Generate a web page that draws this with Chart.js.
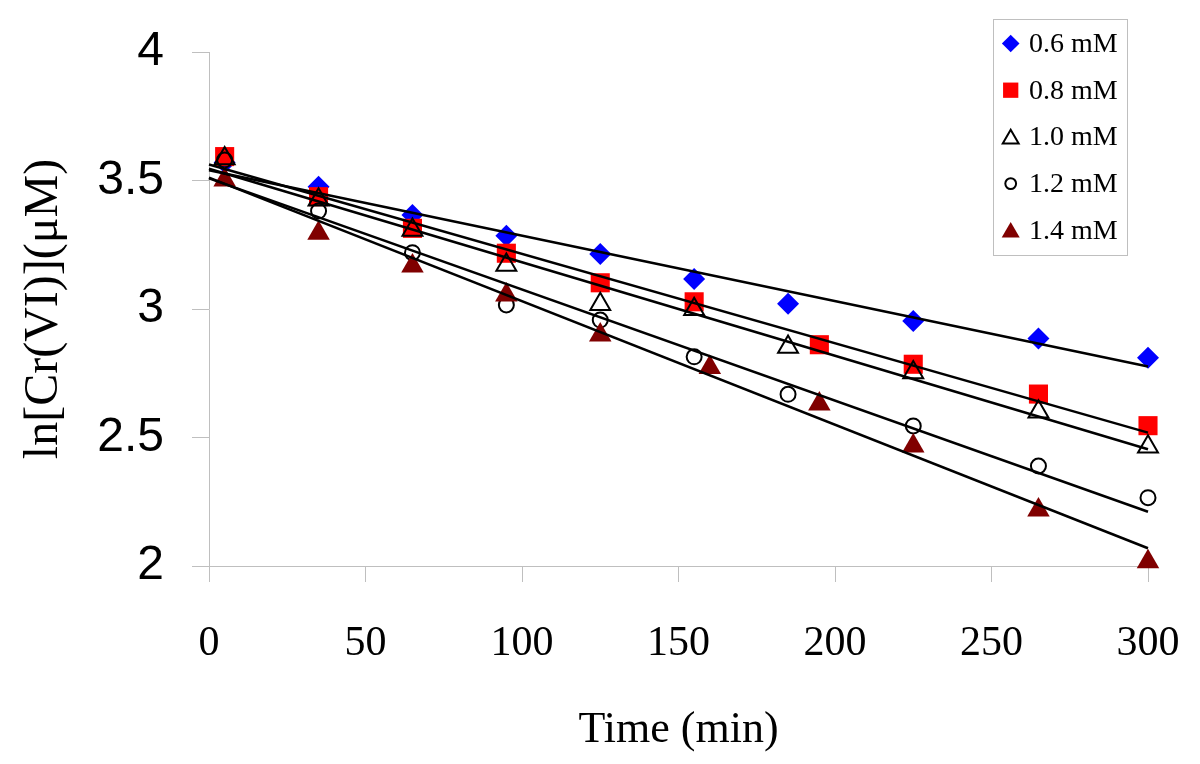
<!DOCTYPE html>
<html>
<head>
<meta charset="utf-8">
<script src="https://cdn.jsdelivr.net/npm/chart.js@4.4.1/dist/chart.umd.min.js"></script>
<style>
html,body{margin:0;padding:0;background:#ffffff;}
canvas{display:block;}
</style>
</head>
<body>
<canvas id="c" width="1200" height="764"></canvas>
<script>
// ---- data ----
const seriesLabels = ['0.6 mM', '0.8 mM', '1.0 mM', '1.2 mM', '1.4 mM'];

const time06 = [5, 35, 65, 95, 125, 155, 185, 225, 265, 300];
const lnCr06 = [3.570, 3.476, 3.366, 3.285, 3.214, 3.117, 3.020, 2.953, 2.885, 2.810];

const time08 = [5, 35, 65, 95, 125, 155, 195, 225, 265, 300];
const lnCr08 = [3.593, 3.437, 3.314, 3.217, 3.102, 3.028, 2.861, 2.785, 2.669, 2.546];

const time10 = [5, 35, 65, 95, 125, 155, 185, 225, 265, 300];
const lnCr10 = [3.586, 3.425, 3.307, 3.171, 3.018, 2.999, 2.852, 2.753, 2.600, 2.464];

const time12 = [5, 35, 65, 95, 125, 155, 185, 225, 265, 300];
const lnCr12 = [3.580, 3.381, 3.219, 3.016, 2.957, 2.814, 2.668, 2.545, 2.389, 2.266];

const time14 = [5, 35, 65, 95, 125, 160, 195, 225, 265, 300];
const lnCr14 = [3.502, 3.295, 3.167, 3.054, 2.899, 2.772, 2.630, 2.467, 2.218, 2.017];

// linear trend lines (value at t = 0 and at t = 300)
const fitTimes = [0, 300];
const fitStart = [3.540, 3.562, 3.546, 3.508, 3.511];
const fitEnd   = [2.776, 2.519, 2.454, 2.211, 2.069];

const xTickStep = 50;
const yTickStep = 0.5;

// ---- styling ----
const times = [time06, time08, time10, time12, time14];
const values = [lnCr06, lnCr08, lnCr10, lnCr12, lnCr14];
const markerStyles = [
  {style: 'rectRot',  r: 11,   fill: '#0000ff', stroke: '#0000ff', bw: 0},
  {style: 'rect',     r: 13.5, fill: '#ff0000', stroke: '#ff0000', bw: 0},
  {style: 'triangle', r: 11.5, fill: 'rgba(0,0,0,0)', stroke: '#000000', bw: 2},
  {style: 'circle',   r: 7.5,  fill: 'rgba(0,0,0,0)', stroke: '#000000', bw: 2},
  {style: 'triangle', r: 13,   fill: '#800000', stroke: '#800000', bw: 0}
];

const datasets = [];
seriesLabels.forEach((lab, i) => {
  const s = markerStyles[i];
  datasets.push({
    type: 'scatter',
    label: lab,
    data: times[i].map((t, j) => ({x: t, y: values[i][j]})),
    pointStyle: s.style,
    pointRadius: s.r,
    pointBackgroundColor: s.fill,
    pointBorderColor: s.stroke,
    pointBorderWidth: s.bw,
    showLine: false,
    order: 10 - i,
    clip: false
  });
});
seriesLabels.forEach((lab, i) => {
  datasets.push({
    type: 'line',
    label: 'fit ' + lab,
    data: [{x: fitTimes[0], y: fitStart[i]}, {x: fitTimes[1], y: fitEnd[i]}],
    borderColor: '#000000',
    borderWidth: 2.5,
    pointRadius: 0,
    fill: false,
    tension: 0,
    order: 0,
    clip: false
  });
});

function drawMarker(ctx, s, x, y, r) {
  ctx.save();
  ctx.beginPath();
  if (s.style === 'rectRot') {
    ctx.moveTo(x, y - r); ctx.lineTo(x + r, y); ctx.lineTo(x, y + r); ctx.lineTo(x - r, y); ctx.closePath();
  } else if (s.style === 'rect') {
    const h = r * Math.SQRT1_2;
    ctx.rect(x - h, y - h, 2 * h, 2 * h);
  } else if (s.style === 'triangle') {
    ctx.moveTo(x, y - r);
    ctx.lineTo(x + r * Math.sin(2 * Math.PI / 3), y + r / 2);
    ctx.lineTo(x - r * Math.sin(2 * Math.PI / 3), y + r / 2);
    ctx.closePath();
  } else {
    ctx.arc(x, y, r, 0, Math.PI * 2);
  }
  ctx.fillStyle = s.fill;
  ctx.fill();
  if (s.bw > 0) { ctx.lineWidth = s.bw; ctx.strokeStyle = s.stroke; ctx.stroke(); }
  ctx.restore();
}

const boxLegend = {
  id: 'boxLegend',
  afterDraw(chart) {
    const ctx = chart.ctx;
    const bx = 993.5, by = 19.5, bw = 134, bh = 236;
    ctx.save();
    ctx.fillStyle = '#ffffff';
    ctx.fillRect(bx, by, bw, bh);
    ctx.strokeStyle = '#bfbfbf';
    ctx.lineWidth = 1;
    ctx.strokeRect(bx, by, bw, bh);
    ctx.font = '28px "Liberation Serif", "Times New Roman", serif';
    ctx.fillStyle = '#000000';
    ctx.textBaseline = 'middle';
    ctx.textAlign = 'left';
    seriesLabels.forEach((lab, i) => {
      const cy = 43.5 + i * 46.7;
      const s = markerStyles[i];
      const legendScale = s.style === 'circle' ? 0.72 : 0.8;
      drawMarker(ctx, s, 1010.7, cy + (s.style === 'triangle' ? 2 : 0), s.r * legendScale);
      ctx.fillText(lab, 1029, cy + 1);
    });
    ctx.restore();
  }
};

new Chart(document.getElementById('c'), {
  type: 'scatter',
  data: {datasets},
  plugins: [boxLegend],
  options: {
    responsive: false,
    animation: false,
    devicePixelRatio: 1,
    events: [],
    layout: {padding: {top: 52, right: 52, bottom: 0, left: 0}},
    plugins: {legend: {display: false}, tooltip: {enabled: false}, title: {display: false}},
    scales: {
      x: {
        type: 'linear', position: 'bottom', min: 0, max: 300,
        ticks: {stepSize: xTickStep, color: '#000000', padding: 37, maxRotation: 0, autoSkip: false,
                font: {family: '"Liberation Serif", "Times New Roman", serif', size: 42}},
        grid: {display: true, drawOnChartArea: false, drawTicks: true, tickLength: 16, color: '#bfbfbf', lineWidth: 1},
        border: {display: true, color: '#bfbfbf', width: 1},
        title: {display: true, text: 'Time (min)', color: '#000000',
                font: {family: '"Liberation Serif", "Times New Roman", serif', size: 44},
                padding: {top: 0, bottom: 7}},
        afterFit(scale) { scale.height = 198; scale.paddingLeft = 0; scale.paddingRight = 0; }
      },
      y: {
        type: 'linear', position: 'left', min: 2, max: 4,
        ticks: {stepSize: yTickStep, color: '#000000', padding: 28,
                callback: (v) => String(Math.round(v * 10) / 10),
                font: {family: '"Liberation Sans", Arial, sans-serif', size: 48}},
        grid: {display: true, drawOnChartArea: false, drawTicks: true, tickLength: 17, color: '#bfbfbf', lineWidth: 1},
        border: {display: true, color: '#bfbfbf', width: 1},
        title: {display: true, text: 'ln[Cr(VI)](μM)', color: '#000000',
                font: {family: '"Liberation Serif", "Times New Roman", serif', size: 48},
                padding: {top: 16, bottom: 0}},
        afterFit(scale) { scale.width = 209; scale.paddingTop = 0; scale.paddingBottom = 0; }
      }
    }
  }
});
</script>
</body>
</html>
